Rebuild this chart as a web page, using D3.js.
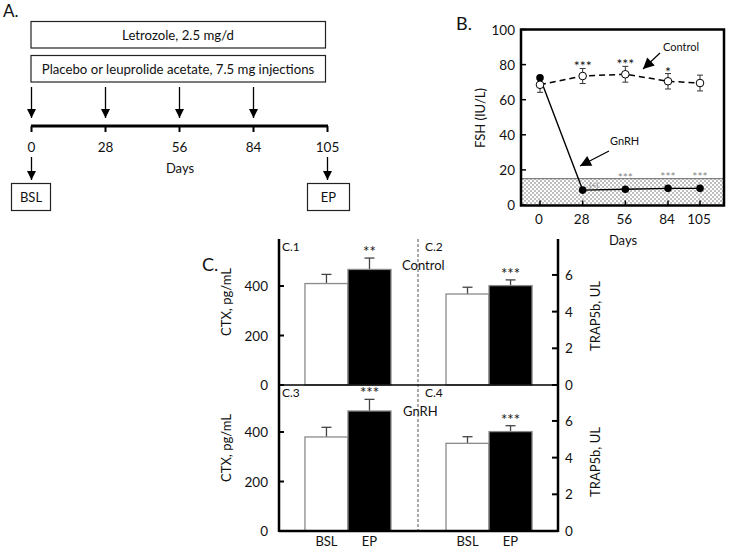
<!DOCTYPE html>
<html><head><meta charset="utf-8">
<script src="https://cdn.jsdelivr.net/npm/d3@7/dist/d3.min.js"></script>
<style>body{margin:0;background:#fff}svg{display:block}text{font-family:Lato,"Open Sans",sans-serif;fill:#111}</style>
</head><body><svg id="c" width="729" height="550"></svg>
<script>
// ---------- data ----------
const timelineDays = [0, 28, 56, 84, 105];
const injectionDays = [0, 28, 56, 84];
const sampleDays = [0, 105];
const sampleLabels = ["BSL", "EP"];
const treatmentLabels = ["Letrozole, 2.5 mg/d", "Placebo or leuprolide acetate, 7.5 mg injections"];

const fshDays = [0, 28, 56, 84, 105];
const fshControl = [68.5, 73.5, 74.5, 70.5, 69.5];
const fshControlErr = [4.3, 4.3, 4.5, 4.4, 4.5];
const fshGnRH = [72.5, 8.5, 9.0, 9.5, 9.5];
const fshControlStars = ["", "***", "***", "*", ""];
const fshGnRHStars = ["", "", "***", "***", "***"];
const fshYTicks = [0, 20, 40, 60, 80, 100];
const fshThreshold = 15;

const groups = ["BSL", "EP"];
const ctxControl = [410, 467], ctxControlErr = [37, 46];
const trapControl = [4.96, 5.42], trapControlErr = [0.37, 0.31];
const ctxGnRH = [380, 485], ctxGnRHErr = [39, 47];
const trapGnRH = [4.78, 5.42], trapGnRHErr = [0.36, 0.32];
const ctxStarsControl = ["", "**"], trapStarsControl = ["", "***"];
const ctxStarsGnRH = ["", "***"], trapStarsGnRH = ["", "***"];
const ctxTicks = [0, 200, 400];
const trapTicks = [0, 2, 4, 6];

// ---------- drawing ----------
const svg = d3.select("#c");
svg.append("rect").attr("width", 729).attr("height", 550).attr("fill", "#fff");
const defs = svg.append("defs");
defs.append("marker").attr("id", "ah").attr("viewBox", "0 0 10 10").attr("refX", 10).attr("refY", 5)
  .attr("markerWidth", 9).attr("markerHeight", 9).attr("markerUnits", "userSpaceOnUse").attr("orient", "auto")
  .append("path").attr("d", "M0,0 L10,5 L0,10 Z").attr("fill", "#000");
defs.append("marker").attr("id", "ahB").attr("viewBox", "0 0 10 10").attr("refX", 10).attr("refY", 5)
  .attr("markerWidth", 12).attr("markerHeight", 11).attr("markerUnits", "userSpaceOnUse").attr("orient", "auto")
  .append("path").attr("d", "M0,0 L10,5 L0,10 Z").attr("fill", "#000");
const pat = defs.append("pattern").attr("id", "dots").attr("width", 4).attr("height", 4).attr("patternUnits", "userSpaceOnUse");
pat.append("rect").attr("width", 4).attr("height", 4).attr("fill", "#fff");
pat.append("rect").attr("x", 0.5).attr("y", 0.5).attr("width", 1).attr("height", 1).attr("fill", "#000");
pat.append("rect").attr("x", 2.5).attr("y", 2.5).attr("width", 1).attr("height", 1).attr("fill", "#000");

// ===== Panel A =====
const A = svg.append("g");
const xa = d3.scalePoint().domain(timelineDays).range([31.5, 327.5]);
A.append("text").attr("x", 3).attr("y", 17).attr("font-size", 17).text("A.");
const boxY = [21.5, 55.5];
treatmentLabels.forEach((t, i) => {
  A.append("rect").attr("x", 31).attr("y", boxY[i]).attr("width", 294.5).attr("height", 26.5)
    .attr("fill", "#fff").attr("stroke", "#222").attr("stroke-width", 1.2);
  A.append("text").attr("x", 178).attr("y", boxY[i] + 18).attr("text-anchor", "middle").attr("font-size", 13.2).text(t);
});
A.selectAll(".inj").data(injectionDays).join("line").attr("x1", d => xa(d)).attr("x2", d => xa(d))
  .attr("y1", 87).attr("y2", 118).attr("stroke", "#000").attr("stroke-width", 1.3).attr("marker-end", "url(#ah)");
A.append("line").attr("x1", xa(0) - 0.5).attr("x2", xa(105) + 0.5).attr("y1", 126).attr("y2", 126)
  .attr("stroke", "#000").attr("stroke-width", 3);
A.selectAll(".tk").data(timelineDays).join("line").attr("x1", d => xa(d)).attr("x2", d => xa(d))
  .attr("y1", 126).attr("y2", 132).attr("stroke", "#000").attr("stroke-width", 2);
A.selectAll(".tl").data(timelineDays).join("text").attr("x", d => xa(d)).attr("y", 152)
  .attr("text-anchor", "middle").attr("font-size", 13.5).text(d => d);
A.append("text").attr("x", 180).attr("y", 173).attr("text-anchor", "middle").attr("font-size", 13).text("Days");
sampleDays.forEach((d, i) => {
  A.append("line").attr("x1", xa(d)).attr("x2", xa(d)).attr("y1", 157).attr("y2", 180)
    .attr("stroke", "#000").attr("stroke-width", 1.3).attr("marker-end", "url(#ah)");
  const w = i === 0 ? 39 : 42;
  A.append("rect").attr("x", xa(d) - 20).attr("y", 183.5).attr("width", w).attr("height", 27)
    .attr("fill", "#fff").attr("stroke", "#222").attr("stroke-width", 1.2);
  A.append("text").attr("x", xa(d) - 20 + w / 2).attr("y", 201.5).attr("text-anchor", "middle").attr("font-size", 13).text(sampleLabels[i]);
});

// ===== Panel B =====
const B = svg.append("g");
const bx = d3.scaleLinear().domain([0, 105]).range([540, 700]);
const by = d3.scaleLinear().domain([0, 100]).range([205, 29.5]);
const fL = 521, fR = 724, fT = 29.5, fB = 205.5;
B.append("text").attr("x", 456).attr("y", 30).attr("font-size", 18).text("B.");
B.append("rect").attr("x", fL).attr("y", by(fshThreshold)).attr("width", fR - fL).attr("height", fB - by(fshThreshold))
  .attr("fill", "url(#dots)");
B.append("line").attr("x1", fL).attr("x2", fR).attr("y1", by(fshThreshold)).attr("y2", by(fshThreshold))
  .attr("stroke", "#444").attr("stroke-width", 0.8);
B.append("rect").attr("x", fL).attr("y", fT).attr("width", fR - fL).attr("height", fB - fT)
  .attr("fill", "none").attr("stroke", "#000").attr("stroke-width", 2.5);
B.selectAll(".yt").data(fshYTicks).join("line").attr("x1", fL).attr("x2", fL + 5)
  .attr("y1", d => by(d)).attr("y2", d => by(d)).attr("stroke", "#000").attr("stroke-width", 1.5);
B.selectAll(".ytl").data(fshYTicks).join("text").attr("x", 515).attr("y", d => by(d) + 5)
  .attr("text-anchor", "end").attr("font-size", 13.5).text(d => d);
B.selectAll(".xt").data(fshDays).join("line").attr("x1", d => bx(d)).attr("x2", d => bx(d))
  .attr("y1", fB).attr("y2", fB - 5).attr("stroke", "#000").attr("stroke-width", 1.5);
B.selectAll(".xtl").data(fshDays).join("text").attr("x", d => bx(d) - 1).attr("y", 224)
  .attr("text-anchor", "middle").attr("font-size", 13.5).text(d => d);
B.append("text").attr("x", 623).attr("y", 245).attr("text-anchor", "middle").attr("font-size", 13).text("Days");
B.append("text").attr("transform", "translate(485,118) rotate(-90)").attr("text-anchor", "middle").attr("font-size", 13).text("FSH (IU/L)");
const line = d3.line().x((d, i) => bx(fshDays[i])).y(d => by(d));
// GnRH
B.append("path").attr("d", line(fshGnRH)).attr("fill", "none").attr("stroke", "#000").attr("stroke-width", 1.4);
// control error bars
fshDays.forEach((d, i) => {
  const x = bx(d), t = by(fshControl[i] + fshControlErr[i]), b = by(fshControl[i] - fshControlErr[i]);
  B.append("line").attr("x1", x).attr("x2", x).attr("y1", t).attr("y2", b).attr("stroke", "#333").attr("stroke-width", 1);
  [t, b].forEach(yy => B.append("line").attr("x1", x - 3).attr("x2", x + 3).attr("y1", yy).attr("y2", yy).attr("stroke", "#333").attr("stroke-width", 1));
  if (fshControlStars[i]) B.append("text").attr("x", x).attr("y", t + 3).attr("text-anchor", "middle").attr("font-size", 14).text(fshControlStars[i]);
});
B.append("path").attr("d", line(fshControl)).attr("fill", "none").attr("stroke", "#000").attr("stroke-width", 1.5).attr("stroke-dasharray", "6,4");
B.selectAll(".gp").data(fshGnRH).join("circle").attr("cx", (d, i) => bx(fshDays[i])).attr("cy", d => by(d)).attr("r", 3.8).attr("fill", "#000");
B.selectAll(".cp").data(fshControl).join("circle").attr("cx", (d, i) => bx(fshDays[i])).attr("cy", d => by(d)).attr("r", 3.8)
  .attr("fill", "#fff").attr("stroke", "#000").attr("stroke-width", 1);
fshDays.forEach((d, i) => {
  const x = bx(d), y = by(fshGnRH[i]);
  if (fshGnRHStars[i]) {
    B.append("text").attr("x", x).attr("y", y - 7).attr("text-anchor", "middle").attr("font-size", 12).style("fill", "#888").text(fshGnRHStars[i]);
  } else if (i === 1) {
    B.append("text").attr("x", x + 11).attr("y", y - 2).attr("text-anchor", "middle").attr("font-size", 8).style("fill", "#888").text("(+)");
  }
});
B.append("text").attr("x", 663).attr("y", 51).attr("font-size", 11).text("Control");
B.append("line").attr("x1", 660).attr("y1", 53).attr("x2", 643).attr("y2", 69).attr("stroke", "#000").attr("stroke-width", 1.2).attr("marker-end", "url(#ahB)");
B.append("text").attr("x", 610).attr("y", 145).attr("font-size", 11).text("GnRH");
B.append("line").attr("x1", 609).attr("y1", 151).attr("x2", 580).attr("y2", 166).attr("stroke", "#000").attr("stroke-width", 1.2).attr("marker-end", "url(#ahB)");

// ===== Panel C =====
const C = svg.append("g");
const cL = 279, cR = 558;
const outer = d3.scaleBand().domain(["CTX", "TRAP5b"]).range([cL, cR]).paddingInner(0.39).paddingOuter(0.184);
const inner = d3.scaleBand().domain(groups).range([0, outer.bandwidth()]);
C.append("text").attr("x", 202).attr("y", 271).attr("font-size", 18).text("C.");
const panels = [
  {top: 239, base: 385, ctx: ctxControl, ctxE: ctxControlErr, trap: trapControl, trapE: trapControlErr,
   cs: ctxStarsControl, ts: trapStarsControl, lab: ["C.1", "C.2"], name: "Control", nameX: 402},
  {top: 385, base: 531, ctx: ctxGnRH, ctxE: ctxGnRHErr, trap: trapGnRH, trapE: trapGnRHErr,
   cs: ctxStarsGnRH, ts: trapStarsGnRH, lab: ["C.3", "C.4"], name: "GnRH", nameX: 403}
];
panels.forEach((p, pi) => {
  const yl = d3.scaleLinear().domain([0, 590]).range([p.base, p.top]);
  const yr = d3.scaleLinear().domain([0, 7.96]).range([p.base, p.top]);
  const sets = [{key: "CTX", v: p.ctx, e: p.ctxE, s: p.cs, y: yl}, {key: "TRAP5b", v: p.trap, e: p.trapE, s: p.ts, y: yr}];
  sets.forEach(st => {
    groups.forEach((g, gi) => {
      const x0 = outer(st.key) + inner(g), w = inner.bandwidth();
      const yt = st.y(st.v[gi]), ye = st.y(st.v[gi] + st.e[gi]);
      const cx = x0 + w / 2;
      C.append("line").attr("x1", cx).attr("x2", cx).attr("y1", yt).attr("y2", ye).attr("stroke", "#444").attr("stroke-width", 1.3);
      C.append("line").attr("x1", cx - 5).attr("x2", cx + 5).attr("y1", ye).attr("y2", ye).attr("stroke", "#444").attr("stroke-width", 1.3);
      C.append("rect").attr("x", x0).attr("y", yt).attr("width", w).attr("height", p.base - yt)
        .attr("fill", gi === 0 ? "#fff" : "#000").attr("stroke", "#8a8a8a").attr("stroke-width", 1.3);
      if (st.s[gi]) C.append("text").attr("x", cx).attr("y", ye - 1).attr("text-anchor", "middle").attr("font-size", 15).text(st.s[gi]);
    });
  });
  // ticks
  ctxTicks.forEach(t => {
    C.append("line").attr("x1", cL).attr("x2", cL + 5).attr("y1", yl(t)).attr("y2", yl(t)).attr("stroke", "#000").attr("stroke-width", 2);
    C.append("text").attr("x", 268).attr("y", yl(t) + 5).attr("text-anchor", "end").attr("font-size", 13.5).text(t);
  });
  trapTicks.forEach(t => {
    C.append("line").attr("x1", cR - 6).attr("x2", cR).attr("y1", yr(t)).attr("y2", yr(t)).attr("stroke", "#000").attr("stroke-width", 2);
    C.append("text").attr("x", 565).attr("y", yr(t) + 5).attr("font-size", 13.5).text(t);
  });
  C.append("text").attr("transform", `translate(231,${(p.top + p.base) / 2 - 10}) rotate(-90)`).attr("text-anchor", "middle").attr("font-size", 13).text("CTX, pg/mL");
  C.append("text").attr("transform", `translate(600,${(p.top + p.base) / 2 + 4}) rotate(-90)`).attr("text-anchor", "middle").attr("font-size", 13).text("TRAP5b, UL");
  C.append("text").attr("x", 282).attr("y", p.top + 12).attr("font-size", 12).text(p.lab[0]);
  C.append("text").attr("x", 425).attr("y", p.top + 12).attr("font-size", 12).text(p.lab[1]);
  C.append("text").attr("x", p.nameX).attr("y", p.top + 31).attr("font-size", 13).text(p.name);
});
// divider, axes
C.append("line").attr("x1", 418).attr("x2", 418).attr("y1", 239).attr("y2", 531).attr("stroke", "#555").attr("stroke-width", 1).attr("stroke-dasharray", "3,2");
C.append("line").attr("x1", cL).attr("x2", cR).attr("y1", 385).attr("y2", 385).attr("stroke", "#000").attr("stroke-width", 1.5);
C.append("line").attr("x1", cL).attr("x2", cR).attr("y1", 531).attr("y2", 531).attr("stroke", "#000").attr("stroke-width", 2.5);
C.append("line").attr("x1", cL).attr("x2", cL).attr("y1", 239).attr("y2", 532).attr("stroke", "#000").attr("stroke-width", 2.5);
C.append("line").attr("x1", cR).attr("x2", cR).attr("y1", 239).attr("y2", 532).attr("stroke", "#000").attr("stroke-width", 2.5);
["CTX", "TRAP5b"].forEach(k => groups.forEach(g => {
  C.append("text").attr("x", outer(k) + inner(g) + inner.bandwidth() / 2).attr("y", 546).attr("text-anchor", "middle").attr("font-size", 13).text(g);
}));
</script></body></html>
